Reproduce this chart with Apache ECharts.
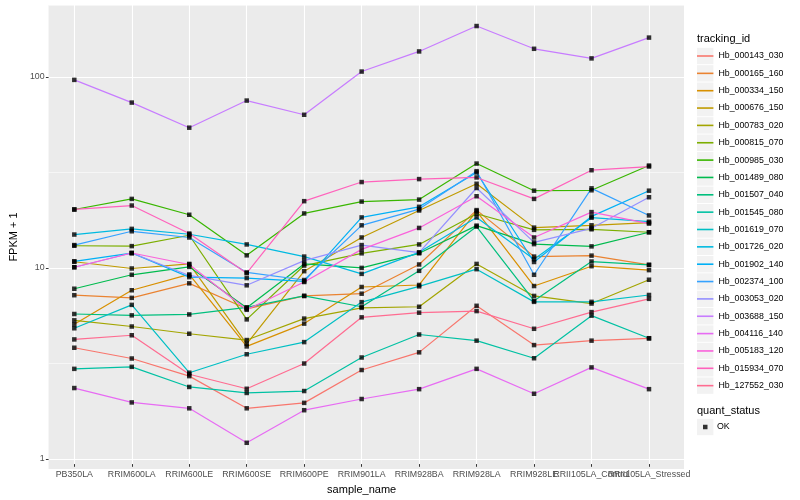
<!DOCTYPE html>
<html><head><meta charset="utf-8">
<script src="https://cdn.jsdelivr.net/npm/echarts@6/dist/echarts.min.js"></script>
<style>html,body{margin:0;padding:0;background:#fff}#c{width:800px;height:500px}</style>
</head><body><div id="c"></div>
<script>
// ---------- data ----------
const categories = ["PB350LA","RRIM600LA","RRIM600LE","RRIM600SE","RRIM600PE","RRIM901LA","RRIM928BA","RRIM928LA","RRIM928LE","RRII105LA_Control","RRII105LA_Stressed"];
const trackingIds = ["Hb_000143_030","Hb_000165_160","Hb_000334_150","Hb_000676_150","Hb_000783_020","Hb_000815_070","Hb_000985_030","Hb_001489_080","Hb_001507_040","Hb_001545_080","Hb_001619_070","Hb_001726_020","Hb_001902_140","Hb_002374_100","Hb_003053_020","Hb_003688_150","Hb_004116_140","Hb_005183_120","Hb_015934_070","Hb_127552_030"];
const colors = ["#F8766D","#EA8331","#D89000","#C09B00","#A3A500","#7CAE00","#39B600","#00BB4E","#00BF7D","#00C1A3","#00BFC4","#00BAE0","#00B0F6","#35A2FF","#9590FF","#C77CFF","#E76BF3","#FA62DB","#FF62BC","#FF6C91"];

const hb000143_030 = [3.66, 3.21, 2.59, 1.75, 1.87, 2.79, 3.46, 6.10, 3.78, 3.99, 4.10];
const hb000165_160 = [6.94, 6.72, 8.02, 5.88, 6.88, 7.07, 10.09, 19.57, 11.11, 11.24, 10.04];
const hb000334_150 = [4.87, 7.37, 8.94, 3.72, 4.91, 7.67, 7.86, 19.33, 7.76, 9.88, 9.42];
const hb000676_150 = [10.43, 9.61, 10.16, 3.84, 9.30, 14.02, 19.48, 26.97, 15.81, 16.26, 16.80];
const hb000783_020 = [5.11, 4.74, 4.34, 4.02, 5.22, 5.95, 6.03, 10.16, 6.88, 6.27, 8.38];
const hb000815_070 = [12.68, 12.62, 14.41, 5.17, 9.96, 11.56, 12.88, 18.72, 15.38, 15.49, 14.94];
const hb000985_030 = [19.72, 22.43, 18.49, 11.28, 18.79, 21.71, 22.24, 34.49, 24.79, 24.91, 33.67];
const hb001489_080 = [7.51, 8.90, 9.80, 5.95, 10.16, 9.68, 11.56, 16.20, 12.93, 12.58, 14.94];
const hb001507_040 = [5.52, 5.43, 5.49, 5.99, 6.88, 6.03, 9.34, 16.01, 6.48, 10.46, 10.04];
const hb001545_080 = [2.83, 2.90, 2.27, 2.11, 2.16, 3.25, 4.30, 3.99, 3.22, 5.41, 4.11];
const hb001619_070 = [4.64, 6.17, 2.70, 3.38, 3.92, 6.38, 7.73, 9.53, 6.40, 6.40, 6.96];
const hb001726_020 = [14.53, 15.57, 14.58, 12.88, 11.11, 9.00, 11.70, 17.90, 10.75, 17.84, 16.99];
const hb001902_140 = [10.49, 11.60, 8.65, 8.55, 8.22, 17.90, 20.37, 30.95, 10.40, 18.12, 24.79];
const hb002374_100 = [12.78, 15.12, 14.02, 9.16, 8.35, 16.26, 19.81, 31.44, 8.90, 25.51, 18.34];
const hb003053_020 = [9.76, 11.60, 8.83, 7.83, 10.58, 12.78, 11.65, 25.61, 13.20, 15.68, 22.89];
const hb003688_150 = [95.6, 72.5, 53.4, 74.3, 62.5, 105.8, 135.2, 184.2, 139.6, 124.2, 160.0];
const hb004116_140 = [2.24, 1.88, 1.75, 1.15, 1.71, 1.96, 2.21, 2.83, 2.09, 2.88, 2.21];
const hb005183_120 = [9.76, 11.60, 10.09, 5.81, 8.15, 12.13, 15.75, 23.17, 14.02, 19.10, 16.60];
const hb015934_070 = [19.72, 20.69, 14.71, 9.08, 21.82, 27.54, 28.55, 29.13, 22.43, 31.81, 33.27];
const hb127552_030 = [4.05, 4.26, 2.65, 2.22, 3.02, 5.30, 5.61, 5.72, 4.61, 5.65, 6.64];

const seriesValues = [hb000143_030, hb000165_160, hb000334_150, hb000676_150, hb000783_020, hb000815_070, hb000985_030, hb001489_080, hb001507_040, hb001545_080, hb001619_070, hb001726_020, hb001902_140, hb002374_100, hb003053_020, hb003688_150, hb004116_140, hb005183_120, hb015934_070, hb127552_030];
const yTicks = [1, 10, 100];
const quantStatus = ["OK"];

// ---------- layout ----------
const FONT = "Liberation Sans, Arial, sans-serif";
const yMin = 0.887, yMax = 238;
const legendTop = 56, legendStep = 17.35;

const chart = echarts.init(document.getElementById('c'), null, {renderer: 'canvas', width: 800, height: 500});

const lineSeries = trackingIds.map((id, i) => ({
  name: id, type: 'line', xAxisIndex: 1, yAxisIndex: 2,
  data: seriesValues[i], showSymbol: false, symbol: 'none',
  lineStyle: {color: colors[i], width: 1.2}, itemStyle: {color: colors[i]},
  emphasis: {disabled: true}, clip: false, z: 2
}));
const pointData = [];
seriesValues.forEach(vals => vals.forEach((v, j) => pointData.push([j, v])));
const pointSeries = {
  name: quantStatus[0], type: 'scatter', xAxisIndex: 1, yAxisIndex: 2,
  data: pointData, symbol: 'rect', symbolSize: 4.5, itemStyle: {color: '#000'},
  emphasis: {disabled: true}, clip: false, z: 3
};

const graphics = [];
trackingIds.forEach((id, i) => {
  graphics.push({type: 'rect', z: 0, silent: true,
    shape: {x: 697, y: legendTop + legendStep * i - 8.2, width: 16.4, height: 16.4},
    style: {fill: '#F2F2F2'}});
});
graphics.push({type: 'rect', z: 0, silent: true,
  shape: {x: 697, y: 427 - 8.2, width: 16.4, height: 16.4}, style: {fill: '#F2F2F2'}});
graphics.push({type: 'text', z: 5, silent: true,
  style: {text: 'tracking_id', x: 697, y: 39, fontSize: 11, fontFamily: FONT, fill: '#000', textVerticalAlign: 'middle'}});
graphics.push({type: 'text', z: 5, silent: true,
  style: {text: 'quant_status', x: 697, y: 411, fontSize: 11, fontFamily: FONT, fill: '#000', textVerticalAlign: 'middle'}});

const option = {
  animation: false,
  backgroundColor: '#FFFFFF',
  textStyle: {fontFamily: FONT},
  grid: [
    {left: 40, top: 5, width: 644, height: 464, show: true, backgroundColor: '#EBEBEB', borderWidth: 0, containLabel: false},
    {left: 74.3, top: 5, width: 574.7, height: 464, show: false, containLabel: false}
  ],
  xAxis: [
    {gridIndex: 0, type: 'value', min: 0, max: 1, show: false},
    {gridIndex: 1, type: 'category', data: categories, boundaryGap: false,
      axisLine: {show: false},
      axisTick: {show: true, length: 2.7, lineStyle: {color: '#333333', width: 1}},
      axisLabel: {interval: 0, color: '#4D4D4D', fontSize: 8.8, margin: 6, fontFamily: FONT, hideOverlap: false},
      splitLine: {show: true, lineStyle: {color: '#FFFFFF', width: 1.1}},
      name: 'sample_name', nameLocation: 'middle', nameGap: 11,
      nameTextStyle: {fontSize: 11, color: '#000', fontFamily: FONT}}
  ],
  yAxis: [
    {gridIndex: 0, type: 'log', min: yMin, max: yMax, logBase: 10,
      axisLine: {show: false},
      axisTick: {show: true, length: 2.7, customValues: yTicks, lineStyle: {color: '#333333', width: 1}},
      axisLabel: {customValues: yTicks, color: '#4D4D4D', fontSize: 8.8, margin: 4, fontFamily: FONT,
        formatter: v => String(Math.round(v))},
      splitLine: {show: true, lineStyle: {color: '#FFFFFF', width: 1.1}},
      name: 'FPKM + 1', nameLocation: 'middle', nameGap: 25, nameRotate: 90,
      nameTextStyle: {fontSize: 11, color: '#000', fontFamily: FONT}},
    {gridIndex: 0, type: 'value', min: Math.log10(yMin), max: Math.log10(yMax),
      axisLine: {show: false}, axisTick: {show: false}, axisLabel: {show: false},
      splitLine: {show: true, lineStyle: {color: '#FFFFFF', width: 0.55}}},
    {gridIndex: 1, type: 'log', min: yMin, max: yMax, logBase: 10, show: false}
  ],
  legend: [
    {data: trackingIds.map((id, i) => ({name: id, icon: 'rect', itemStyle: {color: colors[i]}})),
      orient: 'vertical', left: 697, top: legendTop - legendStep / 2, padding: 0,
      itemWidth: 16.4, itemHeight: 1.6, itemGap: 0, selectedMode: false,
      textStyle: {fontSize: 8.8, lineHeight: legendStep, color: '#000', fontFamily: FONT}},
    {data: [{name: quantStatus[0], icon: 'rect', itemStyle: {color: '#000'}}],
      orient: 'vertical', left: 703, top: 427 - legendStep / 2, padding: 0,
      itemWidth: 4.5, itemHeight: 4.5, itemGap: 0, selectedMode: false,
      textStyle: {fontSize: 8.8, lineHeight: legendStep, color: '#000', fontFamily: FONT, padding: [0, 0, 0, 4.5]}}
  ],
  graphic: graphics,
  series: lineSeries.concat([pointSeries])
};
chart.setOption(option);
</script></body></html>
